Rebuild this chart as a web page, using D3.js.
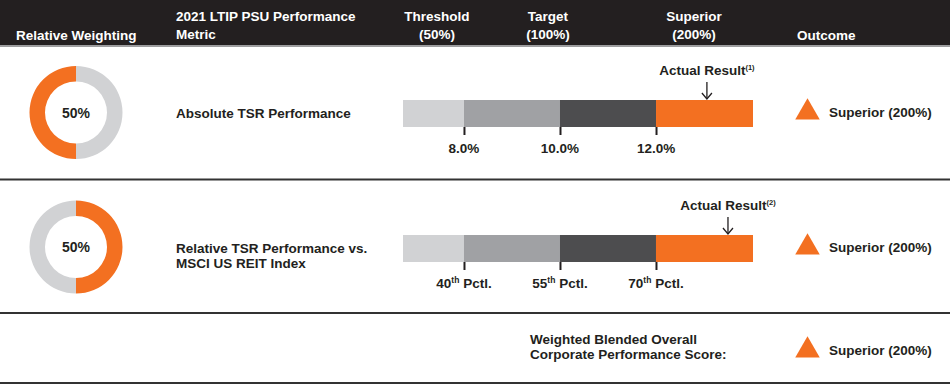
<!DOCTYPE html>
<html><head><meta charset="utf-8">
<script src="https://cdn.jsdelivr.net/npm/d3@7"></script>
<style>
html,body{margin:0;padding:0;background:#fff;}
text{font-family:"Liberation Sans",Arial,Helvetica,sans-serif;font-weight:bold;}
</style></head>
<body><svg id="c" width="950" height="385"></svg>
<script>
// ---- data ----
const headerLabels = [
  ["Relative Weighting"],
  ["2021 LTIP PSU Performance","Metric"],
  ["Threshold","(50%)"],
  ["Target","(100%)"],
  ["Superior","(200%)"],
  ["Outcome"]
];
const metrics = [
  ["Absolute TSR Performance"],
  ["Relative TSR Performance vs.","MSCI US REIT Index"]
];
const weights = [50, 50];
const tsrDomain = [6.73, 14.02];
const tsrTicks = [8, 10, 12];
const tsrTickLabels = ["8.0%","10.0%","12.0%"];
const tsrActual = 13.06;
const pctlDomain = [30.47, 85.16];
const pctlTicks = [40, 55, 70];
const pctlTickLabels = ["40","55","70"];
const pctlActual = 81.25;
const actualNotes = ["(1)","(2)"];
const outcomes = ["Superior (200%)","Superior (200%)","Superior (200%)"];
const blendedLabel = ["Weighted Blended Overall","Corporate Performance Score:"];
const segColors = ["#d1d2d4","#a0a1a4","#4d4d4f","#f37021"];

// ---- drawing ----
const svg = d3.select("#c");
const ink = "#231f20", orange = "#f37021", grey = "#d1d2d4";
const FS = 13.5;

// header
svg.append("rect").attr("x",0).attr("y",0).attr("width",950).attr("height",45).attr("fill","#231f20");
svg.append("rect").attr("x",0).attr("y",45).attr("width",950).attr("height",2).attr("fill","#9d9d9f");
const hdr = [
  {x:16, a:"start", y:[40]},
  {x:176, a:"start", y:[21,39]},
  {x:437, a:"middle", y:[21,39]},
  {x:548, a:"middle", y:[21,39]},
  {x:694, a:"middle", y:[21,39]},
  {x:797, a:"start", y:[40]}
];
headerLabels.forEach((lines,i)=>{
  const h = hdr[i];
  lines.forEach((t,j)=>{
    svg.append("text").attr("x",h.x).attr("y",h.y[j]).attr("text-anchor",h.a)
      .attr("fill","#fff").attr("font-size",FS).text(t);
  });
});

// separators
[179.5, 313, 383].forEach(y=>{
  svg.append("line").attr("x1",0).attr("x2",950).attr("y1",y).attr("y2",y)
    .attr("stroke","#333").attr("stroke-width",2);
});

// donuts
const pie = d3.pie().sort(null).value(d=>d.v);
const arc = d3.arc().innerRadius(31).outerRadius(46.5);
const donutCY = [112.5, 247];
weights.forEach((w,i)=>{
  const g = svg.append("g").attr("transform",`translate(76,${donutCY[i]})`);
  const data = i===0 ? [{v:100-w,c:grey},{v:w,c:orange}] : [{v:w,c:orange},{v:100-w,c:grey}];
  g.selectAll("path").data(pie(data)).join("path").attr("d",arc).attr("fill",d=>d.data.c);
  g.append("text").attr("text-anchor","middle").attr("y",5).attr("font-size",14)
    .attr("font-weight","bold").attr("fill",ink).text(w+"%");
});

// metric labels
const metricY = [[118],[253,268]];
metrics.forEach((lines,i)=>{
  lines.forEach((t,j)=>svg.append("text").attr("x",176).attr("y",metricY[i][j])
    .attr("font-size",FS).attr("fill",ink).text(t));
});

// bars
function drawBar(top, domain, ticks, labels, actual, note, isPctl){
  const x = d3.scaleLinear().domain(domain).range([403,753]);
  const bounds = [domain[0], ...ticks, domain[1]];
  const g = svg.append("g");
  const h = 27;
  for(let k=0;k<4;k++){
    g.append("rect").attr("x",x(bounds[k])).attr("y",top)
      .attr("width",x(bounds[k+1])-x(bounds[k])).attr("height",h).attr("fill",segColors[k]);
  }
  const ax = d3.axisBottom(x).tickValues(ticks).tickSize(8).tickFormat("");
  const ag = g.append("g").attr("transform",`translate(0,${top+h})`).call(ax);
  ag.select(".domain").remove();
  ag.selectAll(".tick line").attr("stroke",ink).attr("stroke-width",2);
  ticks.forEach((t,k)=>{
    if(!isPctl){
      g.append("text").attr("x",x(t)).attr("y",top+h+26).attr("text-anchor","middle")
        .attr("font-size",FS).attr("fill",ink).text(labels[k]);
    } else {
      const tx = g.append("text").attr("x",x(t)).attr("y",top+h+26).attr("text-anchor","middle")
        .attr("font-size",FS).attr("fill",ink);
      tx.append("tspan").text(labels[k]);
      tx.append("tspan").attr("font-size",8.5).attr("dy",-5).text("th");
      tx.append("tspan").attr("dy",5).text("\u00a0Pctl.");
    }
  });
  // actual result arrow
  const ax0 = x(actual);
  g.append("line").attr("x1",ax0).attr("x2",ax0).attr("y1",top-18).attr("y2",top-1)
    .attr("stroke",ink).attr("stroke-width",1.3);
  g.append("path").attr("d",`M${ax0-5},${top-7} L${ax0},${top-1} L${ax0+5},${top-7}`)
    .attr("fill","none").attr("stroke",ink).attr("stroke-width",1.3);
  const lt = g.append("text").attr("x",ax0).attr("y",top-25).attr("text-anchor","middle")
    .attr("font-size",FS).attr("fill",ink);
  lt.append("tspan").text("Actual Result");
  lt.append("tspan").attr("font-size",7.5).attr("dy",-5).text(note);
}
drawBar(100, tsrDomain, tsrTicks, tsrTickLabels, tsrActual, actualNotes[0], false);
drawBar(235, pctlDomain, pctlTicks, pctlTickLabels, pctlActual, actualNotes[1], true);

// outcomes
const outY = [111.5, 246.5, 349.5];
const tri = d3.symbol().type(d3.symbolTriangle).size(260);
outcomes.forEach((t,i)=>{
  svg.append("path").attr("d",tri()).attr("fill",orange)
    .attr("transform",`translate(807.5,${outY[i]+1})`);
  svg.append("text").attr("x",829).attr("y",outY[i]+5).attr("font-size",FS)
    .attr("fill",ink).text(t);
});

// blended label
blendedLabel.forEach((t,j)=>svg.append("text").attr("x",530).attr("y",344+j*15)
  .attr("font-size",FS).attr("fill",ink).text(t));
</script></body></html>
